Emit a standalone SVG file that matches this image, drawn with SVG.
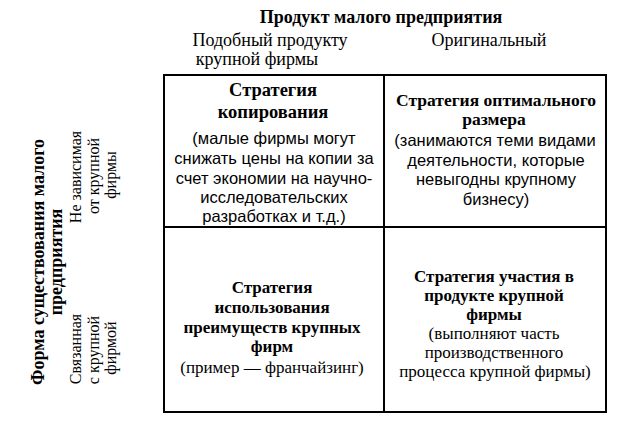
<svg xmlns="http://www.w3.org/2000/svg" width="620" height="434" viewBox="0 0 620 434">
<style>
text { font-family: "Liberation Serif", "DejaVu Serif", serif; fill: #000; text-anchor: middle; }
.hb { font-size: 18px; font-weight: bold; }
.h { font-size: 18px; }
.t1 { font-size: 18.5px; font-weight: bold; }
.tb { font-size: 17px; font-weight: bold; }
.tr { font-size: 17.5px; font-weight: bold; }
.s { font-family: "Liberation Sans", Arial, sans-serif; font-size: 16.5px; }
.r { font-size: 17px; }
.lb { font-size: 18px; font-weight: bold; }
.l { font-size: 16px; }
.grid { fill: none; stroke: #000; stroke-width: 2; }
</style>
<rect width="620" height="434" fill="#fff"/>
<g id="header">
<text class="hb" x="381" y="23">Продукт малого предприятия</text>
<text class="h" x="270" y="46">Подобный продукту</text>
<text class="h" x="257" y="65">крупной фирмы</text>
<text class="h" x="489" y="46">Оригинальный</text>
</g>
<g id="row-labels">
<text class="lb" transform="translate(44,262) rotate(-90)">Форма существования малого</text>
<text class="lb" transform="translate(62,262) rotate(-90)">предприятия</text>
<text class="l" transform="translate(81,177) rotate(-90)">Не зависимая</text>
<text class="l" transform="translate(99,176) rotate(-90)">от крупной</text>
<text class="l" transform="translate(116,175) rotate(-90)">фирмы</text>
<text class="l" transform="translate(81,349) rotate(-90)">Связанная</text>
<text class="l" transform="translate(99,350) rotate(-90)">с крупной</text>
<text class="l" transform="translate(116,348) rotate(-90)">фирмой</text>
</g>
<g id="grid" class="grid">
<rect x="164" y="75" width="442" height="337"/>
<line x1="384" y1="75" x2="384" y2="412"/>
<line x1="164" y1="227" x2="606" y2="227"/>
</g>
<g id="cell-copy">
<text class="t1" x="273" y="96">Стратегия</text>
<text class="t1" x="273" y="118">копирования</text>
<text class="s" x="274" y="144">(малые фирмы могут</text>
<text class="s" x="274" y="164">снижать цены на копии за</text>
<text class="s" x="274" y="184">счет экономии на научно-</text>
<text class="s" x="274" y="203">исследовательских</text>
<text class="s" x="274" y="222">разработках и т.д.)</text>
</g>
<g id="cell-optimal">
<text class="tr" x="496" y="106">Стратегия оптимального</text>
<text class="tr" x="494" y="125">размера</text>
<text class="s" x="495" y="146">(занимаются теми видами</text>
<text class="s" x="496" y="166">деятельности, которые</text>
<text class="s" x="496" y="185">невыгодны крупному</text>
<text class="s" x="496" y="205">бизнесу)</text>
</g>
<g id="cell-advantages">
<text class="tb" x="272" y="293">Стратегия</text>
<text class="tb" x="272" y="313">использования</text>
<text class="tb" x="272" y="333">преимуществ крупных</text>
<text class="tb" x="272" y="352">фирм</text>
<text class="r" x="272" y="373">(пример — франчайзинг)</text>
</g>
<g id="cell-participation">
<text class="tb" x="494" y="282">Стратегия участия в</text>
<text class="tb" x="494" y="301">продукте крупной</text>
<text class="tb" x="494" y="320">фирмы</text>
<text class="r" x="494" y="339">(выполняют часть</text>
<text class="r" x="494" y="358">производственного</text>
<text class="r" x="495" y="377">процесса крупной фирмы)</text>
</g>
</svg>
